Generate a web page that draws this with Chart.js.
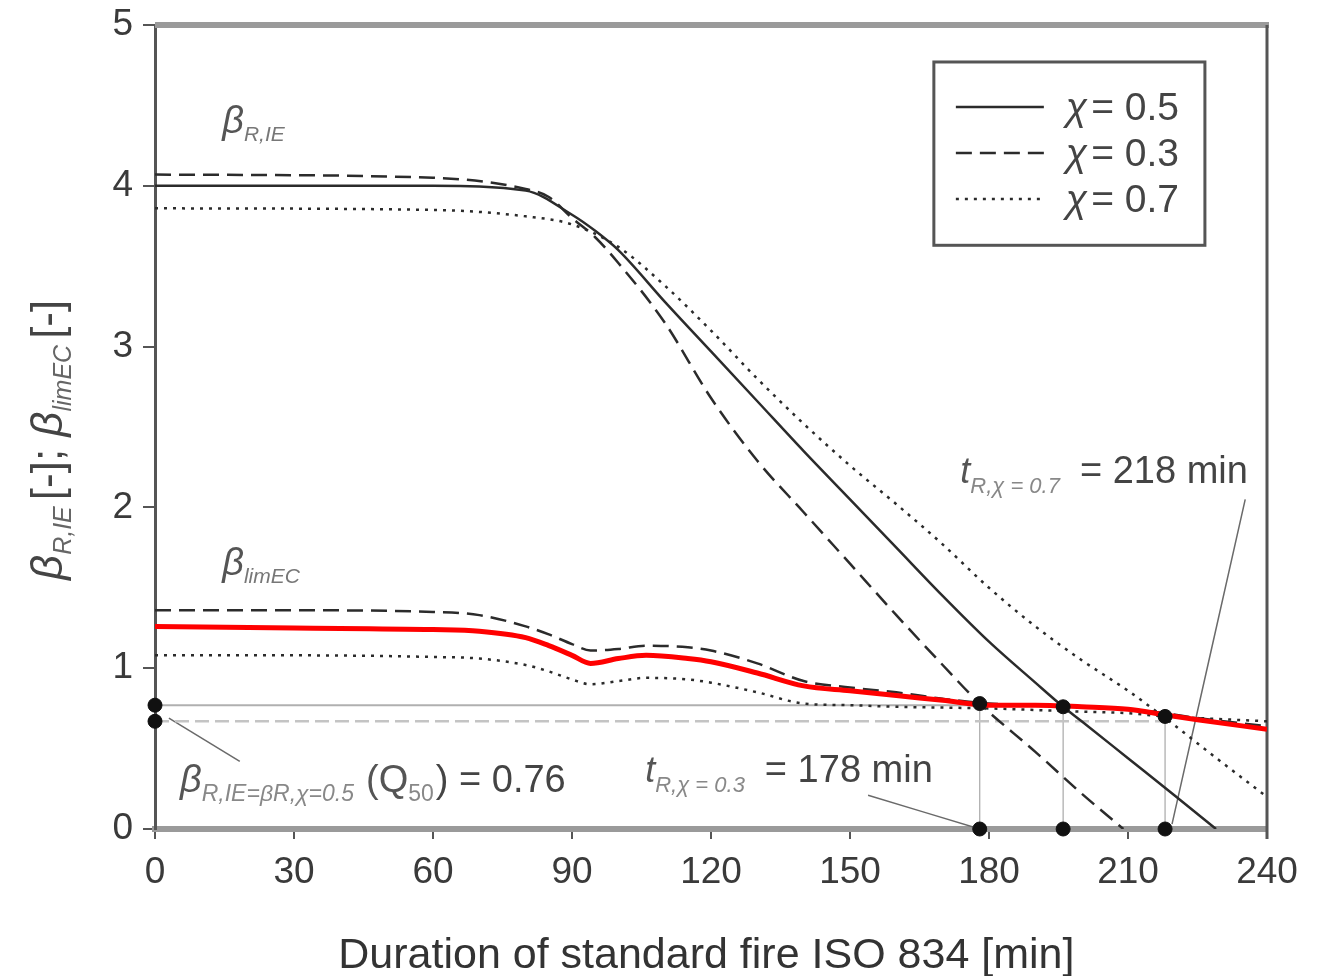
<!DOCTYPE html>
<html>
<head>
<meta charset="utf-8">
<script src="https://cdn.jsdelivr.net/npm/chart.js@4.4.1/dist/chart.umd.min.js"></script>
<style>
  html, body { margin: 0; padding: 0; background: #fff; }
  #wrap { width: 1322px; height: 976px; position: relative; }
</style>
</head>
<body>
<div id="wrap"><canvas id="chart"></canvas></div>
<script>
// ============================
// DATA
// ============================
const xTickVals = [0, 30, 60, 90, 120, 150, 180, 210, 240];
const yTickVals = [0, 1, 2, 3, 4, 5];

// beta_R,IE curves
const tRie05 = [0, 60, 80, 90, 95, 100, 110, 120, 130, 140, 150, 160, 170, 180, 190, 196, 200, 210, 220, 229];
const rie05  = [4.00, 4.00, 3.97, 3.82, 3.72, 3.60, 3.28, 2.97, 2.66, 2.35, 2.05, 1.75, 1.45, 1.165, 0.91, 0.76, 0.67, 0.44, 0.21, 0];

const tRie03 = [0, 60, 80, 85, 90, 95, 100, 110, 120, 130, 140, 150, 160, 170, 178, 190, 200, 209];
const rie03  = [4.07, 4.05, 3.98, 3.93, 3.80, 3.68, 3.52, 3.15, 2.68, 2.29, 1.97, 1.65, 1.33, 1.02, 0.78, 0.48, 0.22, 0];

const tRie07 = [0, 60, 80, 90, 100, 110, 120, 130, 140, 150, 160, 170, 180, 190, 200, 210, 218, 230, 240];
const rie07  = [3.86, 3.85, 3.81, 3.76, 3.62, 3.38, 3.10, 2.80, 2.52, 2.26, 2.02, 1.77, 1.50, 1.26, 1.05, 0.86, 0.69, 0.42, 0.20];

// beta_limEC curves
const tLim  = [0, 30, 60, 70, 80, 85, 90, 94, 100, 106, 115, 120, 130, 140, 150, 160, 170, 180, 190, 200, 210, 218, 225, 240];
const lim05 = [1.26, 1.25, 1.24, 1.23, 1.19, 1.14, 1.08, 1.03, 1.06, 1.08, 1.06, 1.04, 0.97, 0.89, 0.86, 0.83, 0.80, 0.77, 0.77, 0.76, 0.745, 0.71, 0.68, 0.62];
const lim03 = [1.36, 1.36, 1.35, 1.33, 1.26, 1.21, 1.15, 1.11, 1.12, 1.14, 1.13, 1.11, 1.03, 0.92, 0.88, 0.85, 0.81, 0.78, 0.77, 0.76, 0.745, 0.72, 0.69, 0.64];
const lim07 = [1.08, 1.08, 1.07, 1.06, 1.02, 0.98, 0.93, 0.90, 0.92, 0.94, 0.93, 0.91, 0.85, 0.78, 0.77, 0.76, 0.755, 0.75, 0.74, 0.73, 0.72, 0.70, 0.69, 0.67];

// target reliability levels and fire resistance times
const refLevels = [0.77, 0.67];
const refEnds   = [196, 218];
const critT = [178, 196, 218];
const critV = [0.78, 0.76, 0.70];

// leader lines of the annotations [t, beta]
const leaderQ50 = [[3, 0.69], [18.3, 0.42]];
const leader178 = [[153.9, 0.21], [178, 0]];
const leader218 = [[235.3, 2.05], [219.5, 0.03]];

// ============================
// HELPERS
// ============================
const pts = (ts, vs) => ts.map((t, i) => ({ x: t, y: vs[i] }));
const INK = '#2b2b2b';
const SANS = '"Liberation Sans", Arial, sans-serif';

function lineSet(data, opts) {
    return Object.assign({
        type: 'line',
        data,
        borderColor: INK,
        borderWidth: 2.5,
        pointRadius: 0,
        fill: false,
        cubicInterpolationMode: 'monotone',
        tension: 0.4
    }, opts);
}

const dotPoints = [
    { x: 0, y: refLevels[0] }, { x: 0, y: refLevels[1] },
    ...pts(critT, critV),
    ...critT.map(t => ({ x: t, y: 0 }))
];

const datasets = [
    { type: 'scatter', data: dotPoints, pointRadius: 7, pointBackgroundColor: '#111',
      pointBorderColor: '#111', clip: false },
    lineSet(pts(tLim, lim05), { borderColor: '#ff0000', borderWidth: 5 }),
    lineSet(pts(tLim, lim03), { borderDash: [16, 8] }),
    lineSet(pts(tLim, lim07), { borderDash: [3, 6], borderWidth: 2.5 }),
    lineSet(pts(tRie05, rie05), {}),
    lineSet(pts(tRie03, rie03), { borderDash: [16, 8] }),
    lineSet(pts(tRie07, rie07), { borderDash: [3, 6] }),
    // reference levels
    lineSet([{ x: 0, y: refLevels[0] }, { x: refEnds[0], y: refLevels[0] }], { borderColor: '#b0b0b0', borderWidth: 2, tension: 0 }),
    lineSet([{ x: 0, y: refLevels[1] }, { x: refEnds[1], y: refLevels[1] }], { borderColor: '#c4c4c4', borderWidth: 2.5, borderDash: [14, 6], tension: 0 }),
    // drop lines
    ...critT.map((t, i) => lineSet([{ x: t, y: critV[i] }, { x: t, y: 0 }], { borderColor: '#a8a8a8', borderWidth: 1.2, tension: 0 })),
    // leaders
    ...[leaderQ50, leader178, leader218].map(l => lineSet(l.map(p => ({ x: p[0], y: p[1] })),
        { borderColor: '#6a6a6a', borderWidth: 1.5, tension: 0 }))
];

// text with sub/superscript parts
function drawRich(ctx, x, y, parts) {
    let cx = x;
    parts.forEach(p => {
        ctx.font = p.font;
        ctx.fillStyle = p.color || INK;
        ctx.fillText(p.text, cx, y + (p.dy || 0));
        cx += ctx.measureText(p.text).width + (p.gap || 0);
    });
    return cx - x;
}

// ============================
// DECORATION PLUGIN
// ============================
const decor = {
    id: 'decor',
    beforeDatasetsDraw(chart) {
        const { ctx, chartArea: a } = chart;
        ctx.save();
        ctx.strokeStyle = '#9a9a9a';
        ctx.lineWidth = 6;
        ctx.beginPath(); ctx.moveTo(a.left, a.top); ctx.lineTo(a.right + 2, a.top); ctx.stroke();
        ctx.strokeStyle = '#555';
        ctx.lineWidth = 3;
        ctx.beginPath(); ctx.moveTo(a.right, a.top); ctx.lineTo(a.right, a.bottom + 10); ctx.stroke();
        ctx.restore();
    },
    afterDraw(chart) {
        const { ctx } = chart;
        const xs = chart.scales.x, ys = chart.scales.y;
        const X = v => xs.getPixelForValue(v), Y = v => ys.getPixelForValue(v);
        ctx.save();
        ctx.textBaseline = 'alphabetic';
        ctx.textAlign = 'left';

        const greek = 'italic 38px ' + SANS;
        const sub = 'italic 21px ' + SANS;
        const big = '38px ' + SANS;

        // curve group labels
        drawRich(ctx, X(14.5), Y(4.33), [
            { text: 'β', font: greek, color: '#555' },
            { text: 'R,IE', font: sub, dy: 8, color: '#777' }
        ]);
        drawRich(ctx, X(14.5), Y(1.58), [
            { text: 'β', font: greek, color: '#555' },
            { text: 'limEC', font: sub, dy: 8, color: '#777' }
        ]);

        // Q50 annotation
        drawRich(ctx, X(5.4), Y(0.23), [
            { text: 'β', font: greek, color: '#555' },
            { text: 'R,IE=βR,χ=0.5', font: 'italic 23px ' + SANS, dy: 9, color: '#888', gap: 12 },
            { text: '(Q', font: big, color: '#555' },
            { text: '50', font: '23px ' + SANS, dy: 9, color: '#888', gap: 2 },
            { text: ') = 0.76', font: big, color: '#444' }
        ]);

        // 178 min annotation
        drawRich(ctx, X(105.8), Y(0.29), [
            { text: 't', font: 'italic 36px ' + SANS, color: '#555' },
            { text: 'R,χ = 0.3', font: 'italic 22px ' + SANS, dy: 10, color: '#888', gap: 20 },
            { text: '= 178 min', font: big, color: '#444' }
        ]);

        // 218 min annotation
        drawRich(ctx, X(173.8), Y(2.15), [
            { text: 't', font: 'italic 36px ' + SANS, color: '#555' },
            { text: 'R,χ = 0.7', font: 'italic 22px ' + SANS, dy: 10, color: '#888', gap: 20 },
            { text: '= 218 min', font: big, color: '#444' }
        ]);

        // legend box
        const lx0 = X(168.1), lx1 = X(226.6), ly0 = Y(4.77), ly1 = Y(3.63);
        ctx.strokeStyle = '#555';
        ctx.lineWidth = 3;
        ctx.strokeRect(lx0, ly0, lx1 - lx0, ly1 - ly0);
        const legendItems = [
            { dash: [], label: '0.5' },
            { dash: [16, 8], label: '0.3' },
            { dash: [3, 6], label: '0.7' }
        ];
        legendItems.forEach((it, i) => {
            const yy = ly0 + 45 + i * 46;
            ctx.strokeStyle = INK;
            ctx.lineWidth = 2.5;
            ctx.setLineDash(it.dash);
            ctx.beginPath(); ctx.moveTo(lx0 + 22, yy); ctx.lineTo(lx0 + 110, yy); ctx.stroke();
            ctx.setLineDash([]);
            drawRich(ctx, lx0 + 132, yy + 13, [
                { text: 'χ', font: 'italic 39px ' + SANS, color: '#444', gap: 4 },
                { text: '= ' + it.label, font: '39px ' + SANS, color: '#444' }
            ]);
        });

        // y axis title (rotated)
        ctx.save();
        ctx.translate(62, Y(2.42));
        ctx.rotate(-Math.PI / 2);
        ctx.textAlign = 'left';
        const parts = [
            { text: 'β', font: 'italic 44px ' + SANS, color: '#444' },
            { text: 'R,IE', font: 'italic 25px ' + SANS, dy: 9, color: '#666', gap: 6 },
            { text: '[-]; ', font: '44px ' + SANS, color: '#444' },
            { text: 'β', font: 'italic 44px ' + SANS, color: '#444' },
            { text: 'limEC', font: 'italic 25px ' + SANS, dy: 9, color: '#666', gap: 6 },
            { text: '[-]', font: '44px ' + SANS, color: '#444' }
        ];
        let w = 0;
        parts.forEach(p => { ctx.font = p.font; w += ctx.measureText(p.text).width + (p.gap || 0); });
        drawRich(ctx, -w / 2, 0, parts);
        ctx.restore();

        // x axis title
        ctx.textAlign = 'center';
        ctx.font = '43px ' + SANS;
        ctx.fillStyle = '#333';
        ctx.fillText('Duration of standard fire ISO 834 [min]', X(119), 968);
        ctx.restore();
    }
};

// ============================
// CHART
// ============================
new Chart(document.getElementById('chart'), {
    data: { datasets },
    options: {
        responsive: true,
        maintainAspectRatio: false,
        animation: false,
        layout: { padding: { top: 25, right: 55, left: 0, bottom: 0 } },
        plugins: { legend: { display: false }, tooltip: { enabled: false } },
        scales: {
            x: {
                type: 'linear', min: 0, max: 240,
                afterBuildTicks: s => { s.ticks = xTickVals.map(v => ({ value: v })); },
                afterFit: s => { s.height = 147; s.paddingLeft = 0; s.paddingRight = 0; },
                border: { color: '#9a9a9a', width: 6 },
                grid: { drawOnChartArea: false, color: '#555', tickLength: 10, lineWidth: 2 },
                ticks: { font: { size: 37, family: SANS }, color: '#3a3a3a', padding: 12 }
            },
            y: {
                type: 'linear', min: 0, max: 5,
                afterBuildTicks: s => { s.ticks = yTickVals.map(v => ({ value: v })); },
                afterFit: s => { s.width = 155; s.paddingTop = 0; s.paddingBottom = 0; },
                border: { color: '#555', width: 3 },
                grid: { drawOnChartArea: false, color: '#555', tickLength: 12, lineWidth: 2 },
                ticks: { font: { size: 37, family: SANS }, color: '#3a3a3a', padding: 10 }
            }
        }
    },
    plugins: [decor]
});
</script>
</body>
</html>
